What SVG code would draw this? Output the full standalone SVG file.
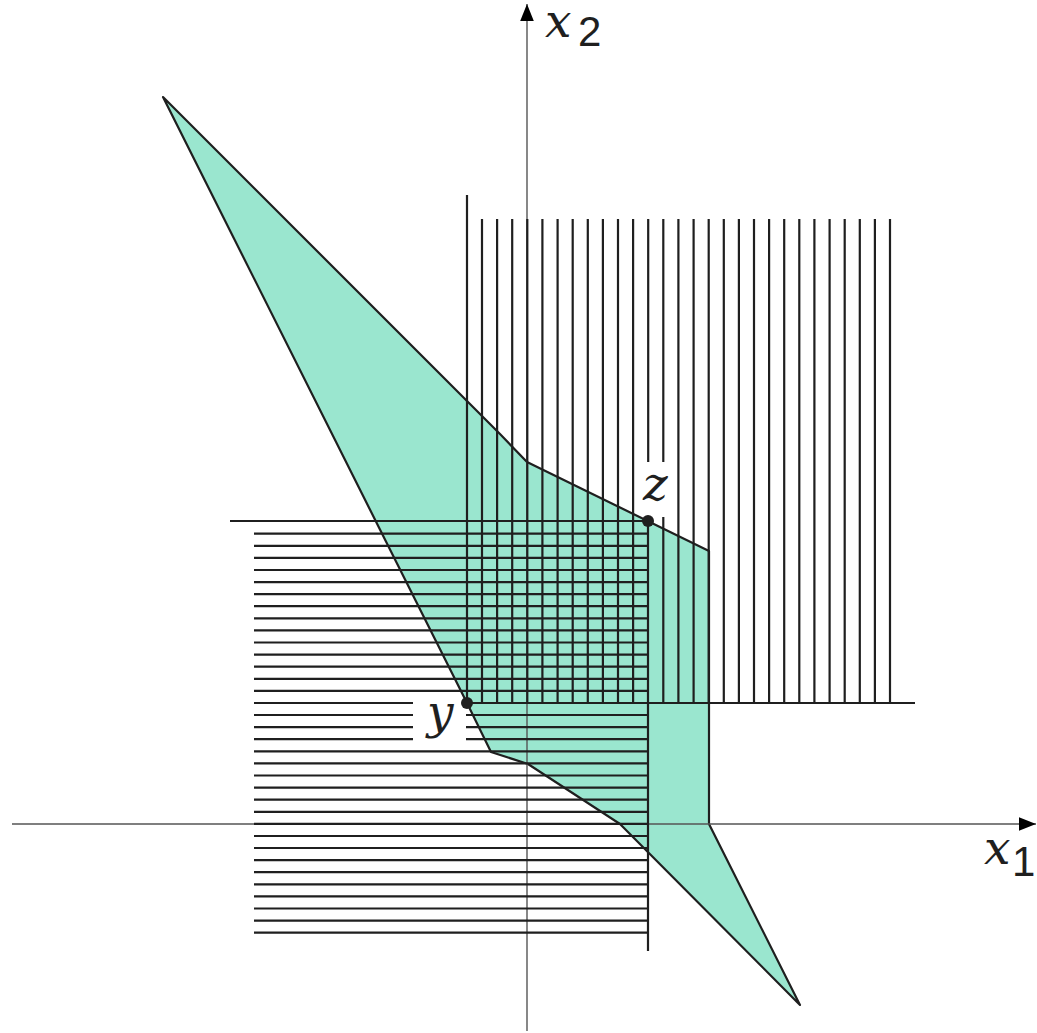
<svg xmlns="http://www.w3.org/2000/svg" width="1037" height="1033" viewBox="0 0 1037 1033">
<style>
.poly{fill:#9ae6cf;stroke:#1f1f1f;stroke-width:2.2;stroke-linejoin:round}
.axis{stroke:#555;stroke-width:1.4;fill:none}
.h{stroke:#1f1f1f;stroke-width:2.2;fill:none}
.m{font-family:"DejaVu Serif",serif;font-style:italic;font-size:47px;fill:#1f1f1f}
.d{font-family:"Liberation Sans",Arial,sans-serif;font-size:42px;fill:#1f1f1f}
.dot{fill:#1f1f1f}
</style>
<defs>
<marker id="arr" viewBox="0 0 10 10" refX="10" refY="5" markerWidth="17" markerHeight="17" markerUnits="userSpaceOnUse" orient="auto">
<path d="M0,1 L10,5 L0,9 Z" fill="#000"/>
</marker>
</defs>
<g id="region">
<polygon class="poly" points="163,97 500,434 527,462 709,551 709,824 800,1005 620,824 528,764 491,752 467,703"/>
</g>
<g id="axes">
<line class="axis" x1="12" y1="824" x2="1036" y2="824" marker-end="url(#arr)"/>
<line class="axis" x1="527" y1="1031" x2="527" y2="4" marker-end="url(#arr)"/>
</g>
<g id="upper-set" class="h">
<line x1="467" y1="195" x2="467" y2="703"/>
<line x1="467" y1="703" x2="915" y2="703"/>
<path d="M482,219V703M497.1,219V703M512.2,219V703M527.3,219V703M542.4,219V703M557.6,219V703M572.7,219V703M587.8,219V703M602.9,219V703M618,219V703M633.1,219V703M648.2,219V462M663.3,219V462M663.3,517V703M678.4,219V703M693.6,219V703M708.7,219V703M723.8,219V703M738.9,219V703M754,219V703M769.1,219V703M784.2,219V703M799.3,219V703M814.4,219V703M829.6,219V703M844.7,219V703M859.8,219V703M874.9,219V703M890,219V703"/>
</g>
<g id="lower-set" class="h">
<line x1="230" y1="521" x2="648" y2="521"/>
<line x1="648" y1="521" x2="648" y2="951"/>
<path d="M254,533.7H648M254,545.8H648M254,557.9H648M254,570H648M254,582.1H648M254,594.2H648M254,606.2H648M254,618.3H648M254,630.4H648M254,642.5H648M254,654.6H648M254,666.7H648M254,678.8H648M254,690.9H648M254,703H413M466,703H648M254,715H413M466,715H648M254,727.1H413M466,727.1H648M254,739.2H413M466,739.2H648M254,751.3H648M254,763.4H648M254,775.5H648M254,787.6H648M254,799.7H648M254,811.8H648M254,823.9H648M254,836H648M254,848H648M254,860.1H648M254,872.2H648M254,884.3H648M254,896.4H648M254,908.5H648M254,920.6H648M254,932.7H648"/>
</g>
<g id="point-y">
<circle class="dot" cx="467" cy="703" r="6"/>
<text class="m" x="427" y="728">y</text>
</g>
<g id="point-z">
<circle class="dot" cx="648" cy="521" r="6"/>
<text class="m" x="643" y="500">z</text>
</g>
<g id="labels">
<text class="m" x="545" y="37">x</text>
<text class="d" x="578" y="46">2</text>
<text class="m" x="984" y="864">x</text>
<text class="d" x="1012" y="876">1</text>
</g>
</svg>
